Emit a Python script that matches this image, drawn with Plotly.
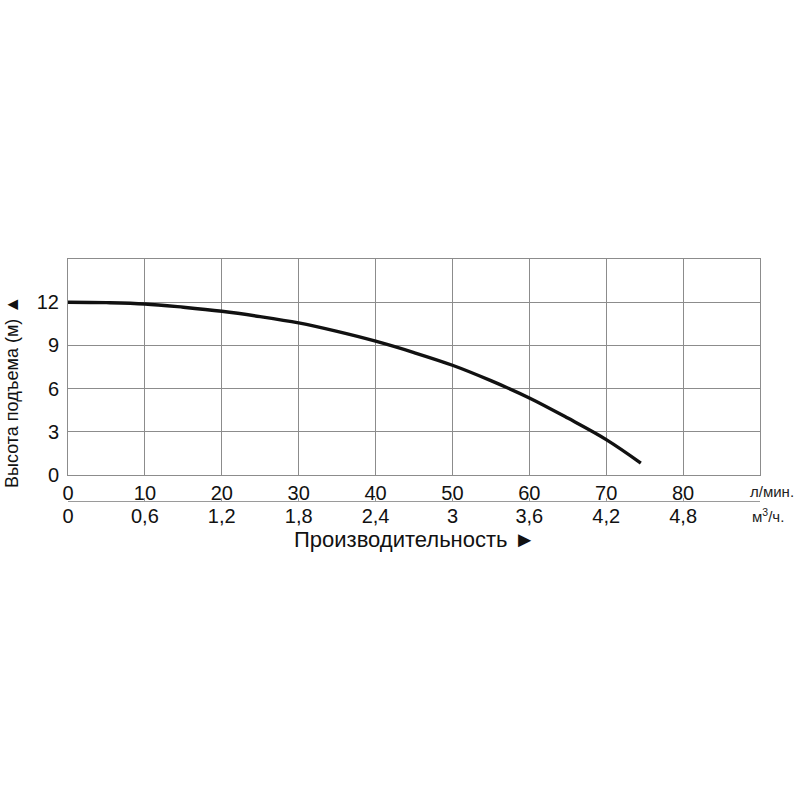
import plotly.graph_objects as go

# Data
flow_lpm = [0, 5, 10, 15, 20, 25, 30, 35, 40, 45, 50, 55, 60, 65, 70, 74.5]
head_m = [12.0, 11.97, 11.88, 11.65, 11.37, 11.0, 10.56, 9.97, 9.29, 8.5, 7.62, 6.55, 5.35, 3.95, 2.46, 0.83]

x1_ticks = [0, 10, 20, 30, 40, 50, 60, 70, 80]
x2_ticks = [0, 0.6, 1.2, 1.8, 2.4, 3.0, 3.6, 4.2, 4.8]
x2_labels = ["0", "0,6", "1,2", "1,8", "2,4", "3", "3,6", "4,2", "4,8"]
y_ticks = [0, 3, 6, 9, 12]

FONT = "Liberation Sans, Arial, sans-serif"
GRID = "#8c8c8c"
TXT = "#111111"

# layout geometry (target pixels in the 800x800 page; body margin removed)
L, R, T, B = 68, 760, 259, 575


def px(x):
    return (x - L) / (R - L)


def py(y):
    return (B - y) / (B - T)


fig = go.Figure()
fig.add_trace(go.Scatter(x=flow_lpm, y=head_m, mode="lines",
                         line=dict(color=TXT, width=3.4, shape="spline"),
                         showlegend=False, hoverinfo="skip"))
fig.add_trace(go.Scatter(x=[0], y=[0], xaxis="x2", yaxis="y", mode="markers",
                         marker=dict(opacity=0), showlegend=False, hoverinfo="skip"))

W = 800
Hh = 800
fig.update_layout(
    width=W, height=Hh,
    paper_bgcolor="white", plot_bgcolor="white",
    margin=dict(l=L, r=W - R, t=T, b=Hh - B),
    font=dict(family=FONT, color=TXT),
    xaxis=dict(range=[0, 90], tickvals=x1_ticks, showgrid=True, gridcolor=GRID, gridwidth=1,
               showline=True, linecolor=GRID, linewidth=1, mirror=True, zeroline=False,
               ticks="", tickfont=dict(size=20, family=FONT, color=TXT),
               anchor="y", fixedrange=True),
    xaxis2=dict(range=[0, 5.4], tickvals=x2_ticks, ticktext=x2_labels, overlaying="x",
                anchor="free", position=py(501), side="bottom", showgrid=False,
                showline=True, linecolor="#9a9a9a", linewidth=1, zeroline=False,
                ticks="inside", ticklen=3, tickcolor="#9a9a9a", ticklabelstandoff=-3,
                tickfont=dict(size=20, family=FONT, color=TXT)),
    yaxis=dict(range=[0, 15], tickvals=y_ticks, domain=[py(475), 1], showgrid=True,
               gridcolor=GRID, gridwidth=1, showline=True, linecolor=GRID, linewidth=1,
               mirror=True, zeroline=False, ticks="", ticklabelstandoff=4,
               tickfont=dict(size=20, family=FONT, color=TXT)),
    annotations=[
        dict(text="Высота подъема (м) ▲", xref="paper", yref="paper", x=px(12), y=py(392),
             textangle=-90, showarrow=False, font=dict(size=18, family=FONT, color=TXT),
             xanchor="center", yanchor="middle"),
        dict(text="Производительность ►", xref="paper", yref="paper", x=px(414), y=py(539),
             xanchor="center", yanchor="middle",
             showarrow=False, font=dict(size=22, family=FONT, color=TXT)),
        dict(text="л/мин.", xref="paper", yref="paper", x=px(772), y=py(491),
             xanchor="center", yanchor="middle", showarrow=False,
             font=dict(size=15, family=FONT, color="#222222")),
        dict(text="м<sup>3</sup>/ч.", xref="paper", yref="paper", x=px(768), y=py(515),
             xanchor="center", yanchor="middle", showarrow=False,
             font=dict(size=15, family=FONT, color="#222222")),
    ],
)

fig.write_html("out.html", config={"displayModeBar": False, "staticPlot": True},
               post_script="document.body.style.margin='0';")
